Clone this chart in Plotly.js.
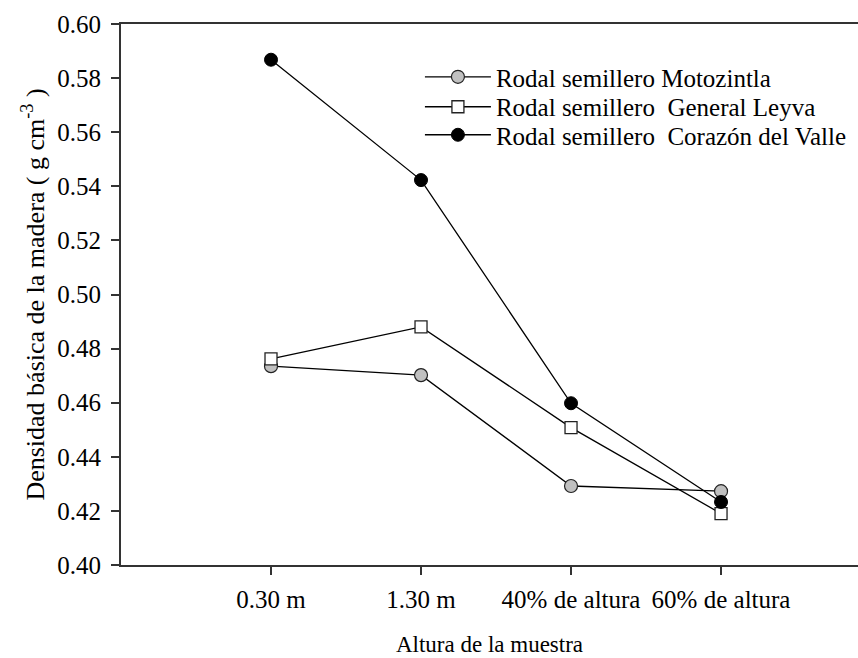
<!DOCTYPE html>
<html>
<head>
<meta charset="utf-8">
<script src="https://cdn.plot.ly/plotly-3.0.1.min.js"></script>
<style>html,body{margin:0;padding:0;background:#fff;}#chart{width:858px;height:658px;}</style>
</head>
<body>
<div id="chart"></div>
<script>
var categories = ["0.30 m", "1.30 m", "40% de altura", "60% de altura"];
var motozintla = [0.4735, 0.4702, 0.4292, 0.4273];
var generalLeyva = [0.4762, 0.4880, 0.4508, 0.4190];
var corazonValle = [0.5868, 0.5423, 0.4598, 0.4233];
var seriesNames = ["Rodal semillero Motozintla", "Rodal semillero  General Leyva", "Rodal semillero  Corazón del Valle"];
var yTicks = [0.40, 0.42, 0.44, 0.46, 0.48, 0.50, 0.52, 0.54, 0.56, 0.58, 0.60];

var font = "Liberation Serif";
function serif(t) { return '<span style="font-family:\'Liberation Serif\',\'Times New Roman\',serif">' + t + '</span>'; }
var traces = [
  {x: categories, y: motozintla, name: seriesNames[0], type: "scatter", mode: "lines+markers", legend: "legend",
   line: {color: "#000", width: 1.3},
   marker: {symbol: "circle", size: 13, color: "#c0c0c0", line: {color: "#222", width: 1.2}}},
  {x: categories, y: generalLeyva, name: seriesNames[1], type: "scatter", mode: "lines+markers", legend: "legend2",
   line: {color: "#000", width: 1.3},
   marker: {symbol: "square", size: 12, color: "#fff", line: {color: "#222", width: 1.3}}},
  {x: categories, y: corazonValle, name: seriesNames[2], type: "scatter", mode: "lines+markers", legend: "legend3",
   line: {color: "#000", width: 1.3},
   marker: {symbol: "circle", size: 13, color: "#000", line: {color: "#000", width: 1}}}
];
function leg(y) {
  return {x: 0.4056, y: y, xanchor: "left", yanchor: "top", bgcolor: "rgba(0,0,0,0)",
          font: {family: font, size: 25, color: "#000"}, itemwidth: 66};
}
var layout = {
  width: 858, height: 658,
  margin: {l: 121, r: 0, t: 24, b: 93},
  paper_bgcolor: "#fff", plot_bgcolor: "#fff",
  font: {family: font, color: "#000", size: 24},
  showlegend: true,
  legend: leg(0.9445),
  legend2: leg(0.8891),
  legend3: leg(0.8373),
  xaxis: {type: "category", range: [-1.0, 3.913], showgrid: false, zeroline: false,
          tickvals: categories, ticktext: categories.map(serif),
          showline: true, linecolor: "#333", linewidth: 2, mirror: true,
          ticks: "outside", ticklen: 8, tickwidth: 2, tickcolor: "#333", ticklabelstandoff: 3,
          tickfont: {family: "Times New Roman", size: 25, color: "#000"},
          title: {text: "Altura de la muestra", font: {family: font, size: 23, color: "#000"}, standoff: 24}},
  yaxis: {range: [0.40, 0.60], tickvals: yTicks, ticktext: yTicks.map(function(v){return serif(v.toFixed(2));}),
          showgrid: false, zeroline: false,
          showline: true, linecolor: "#333", linewidth: 2,
          ticks: "outside", ticklen: 8, tickwidth: 2, tickcolor: "#333", ticklabelstandoff: 5,
          tickfont: {family: "Times New Roman", size: 25, color: "#000"},
          title: {text: "Densidad básica de la madera ( g cm<sup>-3</sup> )", font: {family: font, size: 26, color: "#000"}, standoff: 5}}
};
Plotly.newPlot("chart", traces, layout, {displayModeBar: false, staticPlot: true});
</script>
</body>
</html>
